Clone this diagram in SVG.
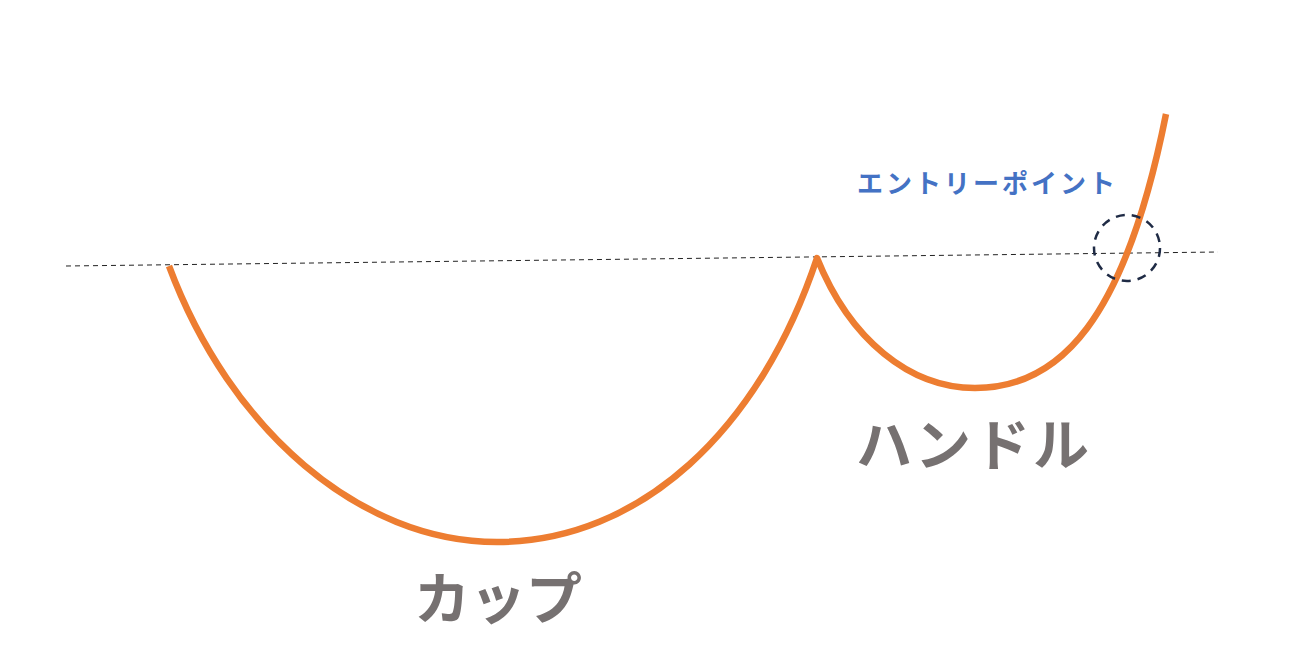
<svg xmlns="http://www.w3.org/2000/svg" width="1308" height="662" viewBox="0 0 1308 662">
<style>
.lbl{font-family:"Noto Sans CJK JP","Noto Sans",sans-serif;font-weight:bold;fill:#767171;font-size:56px}
.entry{font-family:"Noto Sans CJK JP","Noto Sans",sans-serif;font-weight:bold;fill:#4472C4;font-size:26px;letter-spacing:3px}
.curve{fill:none;stroke:#ED7D31;stroke-width:6.5;stroke-linejoin:round}
</style>
<rect width="1308" height="662" fill="#ffffff"/>
<g id="connectors">
<line x1="66" y1="266" x2="1218" y2="252" stroke="#222222" stroke-width="1" stroke-dasharray="5 4"/>
</g>
<g id="curve">
<path class="curve" d="M169,266 C230,430 360,542 497,542 C640,542 760,430 817,258 C850,340 910,388 975,388 C1060,388 1125,320 1166,114"/>
</g>
<g id="entry-circle">
<circle cx="1127" cy="248" r="33" fill="none" stroke="#1F2B45" stroke-width="2.5" stroke-dasharray="9 7"/>
</g>
<g id="label-entry">
<text class="entry" x="857" y="193">エントリーポイント</text>
</g>
<g id="label-cup">
<text class="lbl" x="414" y="619">カップ</text>
</g>
<g id="label-handle">
<text class="lbl" x="856" y="465" style="letter-spacing:3px">ハンドル</text>
</g>
</svg>
